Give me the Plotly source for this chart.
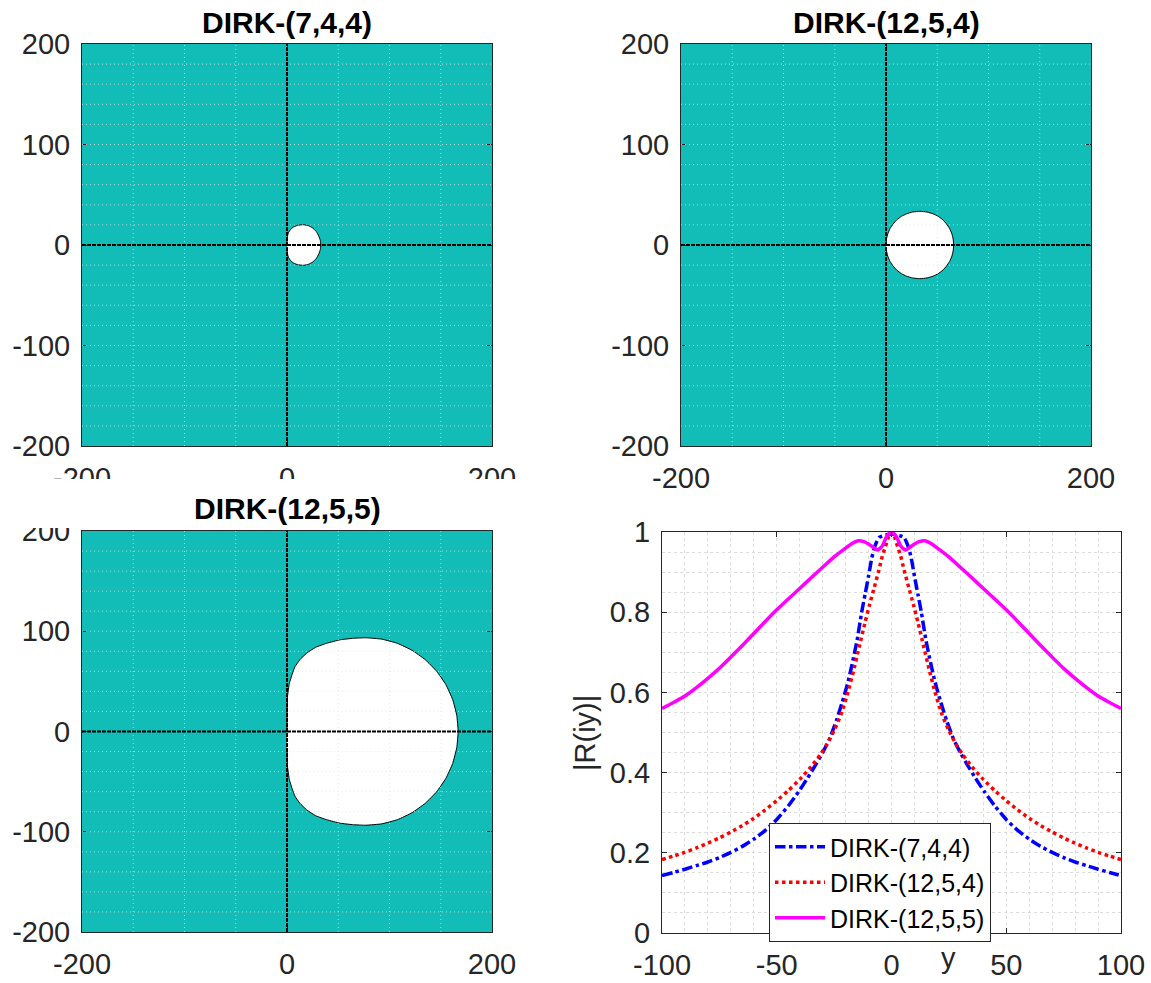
import plotly.graph_objects as go

W, H = 1151, 983
FONT = "Liberation Sans, Arial, Helvetica, sans-serif"
TICKC = "#262626"
TEAL = "#13BDB7"

# ---------------- data ----------------
titles = ["DIRK-(7,4,4)", "DIRK-(12,5,4)", "DIRK-(12,5,5)"]

# upper-half boundary of the white (unstable) region; symmetric in Im z
b744_x = [0, 0.1, 0.5, 1.5, 3.5, 6.5, 10.5, 16, 21, 25, 28.5, 31, 32.5, 33]
b744_y = [0, 5, 9, 12.5, 15.5, 18, 19.6, 20.2, 19.2, 17, 13.5, 9, 4.5, 0]

b1254_x = [0, 0.5, 1.7, 4, 7, 10.5, 15, 20, 26, 33, 40, 46, 51, 55.5, 59, 62, 64.3, 65.5, 66]
b1254_y = [0, 6, 11, 16.5, 21, 25, 28.5, 31, 32.8, 33.5, 32.8, 31, 28.5, 25, 21, 16.5, 11, 6, 0]

b1255_x = [0, 0.1, 0.5, 2.3, 5, 7.8, 12.5, 19, 28, 38.7, 52, 65, 77, 92.6, 107.8, 122, 134.9,
           146, 155, 161.6, 165.6, 167]
b1255_y = [0, 20, 35, 48, 57, 64.6, 71.5, 78, 84, 88, 91.5, 93, 93.5, 92.1, 87.9, 81, 71.6,
           60.1, 46.75, 32, 16.2, 0]

# |R(iy)| for y >= 0 (curves are symmetric in y)
r744_y = [0, 2, 4, 5.5, 6.5, 7.5, 8.6, 10, 11.5, 13, 15, 17, 19, 21.5, 24, 27, 30, 33, 36.5, 40.5,
          45, 50, 55, 60, 65, 70, 75, 80, 85, 90, 95, 100]
r744_v = [0.995, 0.993, 0.99, 0.986, 0.975, 0.96, 0.935, 0.89, 0.845, 0.80, 0.73, 0.675, 0.625, 0.575,
          0.53, 0.484, 0.45, 0.42, 0.387, 0.352, 0.317, 0.283, 0.256, 0.234, 0.216, 0.201, 0.188,
          0.177, 0.168, 0.159, 0.151, 0.143]

r1254_y = [0, 1, 2, 3, 4, 5.5, 7.5, 9.5, 11.5, 14, 16.5, 19, 22, 25, 28, 31, 35, 40, 45, 50, 55,
           60, 65, 70, 75, 80, 85, 90, 95, 100]
r1254_v = [1.0, 0.993, 0.975, 0.958, 0.94, 0.905, 0.862, 0.82, 0.775, 0.715, 0.655, 0.6, 0.545,
           0.505, 0.472, 0.445, 0.415, 0.383, 0.355, 0.33, 0.307, 0.286, 0.268, 0.252, 0.237,
           0.224, 0.212, 0.201, 0.192, 0.183]

r1255_y = [0, 2, 4, 6, 8, 10, 12, 14.5, 17, 20, 25, 30, 35, 40, 45, 50, 55, 60, 65, 70, 75, 80,
           85, 90, 95, 100]
r1255_v = [1.0, 0.99, 0.965, 0.955, 0.962, 0.970, 0.976, 0.978, 0.972, 0.960, 0.938, 0.912, 0.886,
           0.859, 0.833, 0.806, 0.777, 0.747, 0.717, 0.688, 0.660, 0.635, 0.612, 0.591, 0.575, 0.560]

stab_xticks = [-200, 0, 200]
stab_yticks = [-200, -100, 0, 100, 200]
r_xticks = [-100, -50, 0, 50, 100]
r_yticks = [0, 0.2, 0.4, 0.6, 0.8, 1]


def labels(vals):
    return [("%g" % v) for v in vals]  # plain hyphen minus, as in the reference


def closed_region(bx, by):
    # upper half, then mirrored lower half without repeating the end points
    xs = list(bx) + list(reversed(bx[1:-1]))
    ys = list(by) + [-v for v in reversed(by[1:-1])]
    return xs, ys


def full_curve(ys, vs):
    x = [-v for v in reversed(ys)] + list(ys[1:])
    y = list(reversed(vs)) + list(vs[1:])
    return x, y


def px_dom_x(a, b):
    return [a / W, b / W]


def px_dom_y(top, bottom):
    return [1 - bottom / H, 1 - top / H]


fig = go.Figure()

panels = [
    ("x", "y", b744_x, b744_y),
    ("x2", "y2", b1254_x, b1254_y),
    ("x3", "y3", b1255_x, b1255_y),
]
for xa, ya, bx, by in panels:
    xs, ys = closed_region(bx, by)
    fig.add_trace(go.Scatter(x=xs, y=ys, xaxis=xa, yaxis=ya, mode="lines",
                             fill="toself", fillcolor="white",
                             line=dict(color="black", width=1, shape="spline", smoothing=0.4),
                             showlegend=False, hoverinfo="skip"))

cx, cy = full_curve(r744_y, r744_v)
fig.add_trace(go.Scatter(x=cx, y=cy, xaxis="x4", yaxis="y4", mode="lines",
                         name="DIRK-(7,4,4)",
                         line=dict(color="#0000FF", width=3.5, dash="dashdot", shape="spline", smoothing=0.5)))
cx, cy = full_curve(r1254_y, r1254_v)
fig.add_trace(go.Scatter(x=cx, y=cy, xaxis="x4", yaxis="y4", mode="lines",
                         name="DIRK-(12,5,4)",
                         line=dict(color="#FF0000", width=3.5, dash="dot", shape="spline", smoothing=0.5)))
cx, cy = full_curve(r1255_y, r1255_v)
fig.add_trace(go.Scatter(x=cx, y=cy, xaxis="x4", yaxis="y4", mode="lines",
                         name="DIRK-(12,5,5)",
                         line=dict(color="#FF00FF", width=3.5, shape="spline", smoothing=0.5)))

common = dict(showline=True, linecolor=TICKC, linewidth=1, mirror="ticks",
              ticks="inside", ticklen=5, tickcolor=TICKC,
              tickfont=dict(family=FONT, size=29, color=TICKC),
              zeroline=False, automargin=False)

doms = {
    "": (px_dom_x(82, 492), px_dom_y(44, 446)),
    "2": (px_dom_x(681, 1091), px_dom_y(44, 446)),
    "3": (px_dom_x(82, 492), px_dom_y(531, 932)),
}
lay = {}
for k, (dx, dy) in doms.items():
    lay["xaxis" + k] = dict(common, domain=dx, range=[-200, 200], tickvals=stab_xticks,
                            ticktext=labels(stab_xticks),
                            showgrid=False, anchor="y" + k, ticklabelstandoff=6)
    lay["yaxis" + k] = dict(common, domain=dy, range=[-200, 200], tickvals=stab_yticks,
                            ticktext=labels(stab_yticks),
                            showgrid=False, anchor="x" + k, ticklabelstandoff=5)

GRIDC = "#dcdcdc"
grid_common = dict(showgrid=True, gridcolor=GRIDC, griddash="dot", gridwidth=1)
lay["xaxis4"] = dict(common, domain=px_dom_x(662, 1121), range=[-100, 100], tickvals=r_xticks,
                     ticktext=labels(r_xticks),
                     anchor="y4", ticklabelstandoff=6, **grid_common,
                     minor=dict(dtick=10, showgrid=True, gridcolor=GRIDC, griddash="dot", gridwidth=1))
lay["yaxis4"] = dict(common, domain=px_dom_y(532, 933), range=[0, 1], tickvals=r_yticks,
                     ticktext=labels(r_yticks),
                     anchor="x4", ticklabelstandoff=5, **grid_common,
                     minor=dict(dtick=0.05, showgrid=True, gridcolor=GRIDC, griddash="dot", gridwidth=1))

GRID_ST = "rgba(225,225,225,0.75)"
shapes = []
for k in ["", "2", "3"]:
    xr, yr = "x" + k, "y" + k
    shapes.append(dict(type="rect", xref=xr + " domain", yref=yr + " domain", x0=0, x1=1, y0=0, y1=1,
                       fillcolor=TEAL, line=dict(width=0), layer="below"))
    for gx in [-150, -100, -50, 50, 100, 150]:
        shapes.append(dict(type="line", xref=xr, yref=yr + " domain", x0=gx, x1=gx, y0=0, y1=1,
                           line=dict(color=GRID_ST, width=1, dash="1px,3px"), layer="above"))
    for gy in range(-180, 181, 20):
        if gy == 0:
            continue
        shapes.append(dict(type="line", xref=xr + " domain", yref=yr, x0=0, x1=1, y0=gy, y1=gy,
                           line=dict(color=GRID_ST, width=1, dash="1px,3px"), layer="above"))
    shapes.append(dict(type="line", xref=xr, yref=yr + " domain", x0=0, x1=0, y0=0, y1=1,
                       line=dict(color="black", width=2, dash="4px,1px"), layer="above"))
    shapes.append(dict(type="line", xref=xr + " domain", yref=yr, x0=0, x1=1, y0=0, y1=0,
                       line=dict(color="black", width=2, dash="4px,1px"), layer="above"))

# white band clipping the top-left x tick labels (as in the reference)
shapes.append(dict(type="rect", xref="paper", yref="paper", x0=0, x1=560 / W,
                   y0=1 - 528 / H, y1=1 - 479 / H, fillcolor="white", line=dict(width=0), layer="above"))

annotations = []
for t, (xc, yc) in zip(titles, [(287, 22), (886, 22), (287, 508)]):
    annotations.append(dict(text="<b>%s</b>" % t, x=xc / W, y=1 - yc / H, xref="paper", yref="paper",
                            showarrow=False, xanchor="center", yanchor="middle",
                            font=dict(family=FONT, size=30, color="black")))
annotations.append(dict(text="|R(iy)|", x=585 / W, y=1 - 733 / H, xref="paper", yref="paper",
                        showarrow=False, textangle=-90, xanchor="center", yanchor="middle",
                        font=dict(family=FONT, size=29, color=TICKC)))
annotations.append(dict(text="y", x=948 / W, y=1 - 958 / H, xref="paper", yref="paper",
                        showarrow=False, xanchor="center", yanchor="middle",
                        font=dict(family=FONT, size=29, color=TICKC)))

fig.update_layout(
    width=W, height=H, margin=dict(l=0, r=0, t=0, b=0, autoexpand=False),
    paper_bgcolor="white", plot_bgcolor="white",
    shapes=shapes, annotations=annotations,
    showlegend=True,
    legend=dict(x=769 / W, y=1 - 823 / H, xanchor="left", yanchor="top",
                bgcolor="white", bordercolor=TICKC, borderwidth=1,
                font=dict(family=FONT, size=25, color="black"),
                itemwidth=50, tracegroupgap=0),
    **lay,
)

fig.write_html("out.html", config={"displayModeBar": False},
               post_script="document.body.style.margin='0';document.body.style.overflow='hidden';")
